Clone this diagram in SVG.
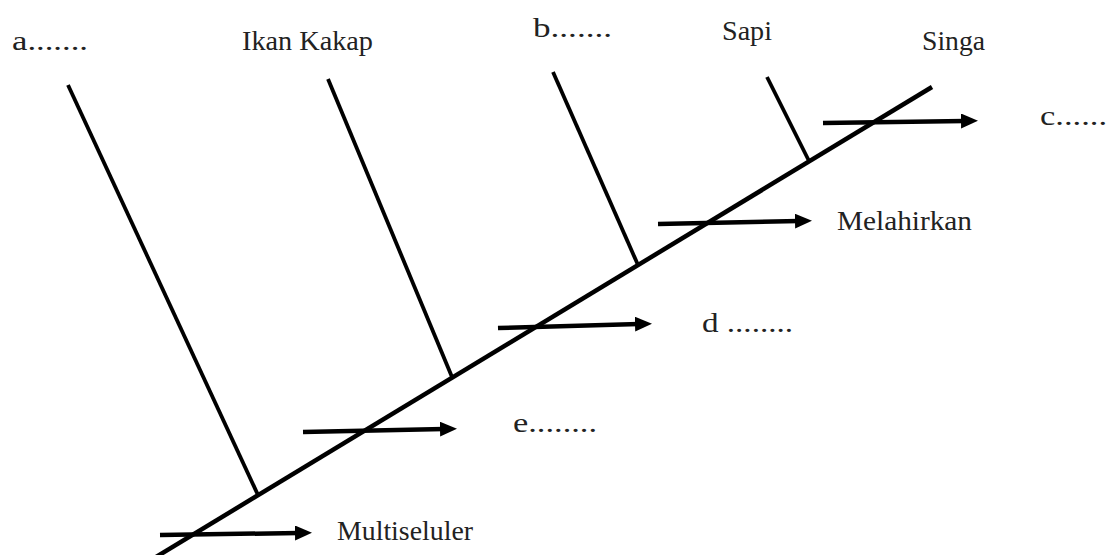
<svg xmlns="http://www.w3.org/2000/svg" width="1112" height="555" viewBox="0 0 1112 555">
  <style>
    .lbl { font-family: "Liberation Serif", "Times New Roman", serif; font-size: 27px; fill: #222; }
    .ln { stroke: #000; stroke-width: 4.5; stroke-linecap: butt; fill: none; }
    .br { stroke: #000; stroke-width: 3.8; stroke-linecap: butt; fill: none; }
    .ar { stroke: #000; stroke-width: 4.5; fill: none; marker-end: url(#ah); }
  </style>
  <defs>
    <marker id="ah" markerUnits="userSpaceOnUse" markerWidth="18" markerHeight="16" refX="4" refY="7.5" orient="auto">
      <path d="M0,0 L17,7.5 L0,15 z" fill="#000"/>
    </marker>
  </defs>
  <rect width="1112" height="555" fill="#fff"/>
  <g id="connectors">
    <line id="main" class="ln" x1="156" y1="557" x2="932" y2="87"/>
    <line class="br" x1="68" y1="85" x2="258" y2="495"/>
    <line class="br" x1="328" y1="79" x2="452" y2="377"/>
    <line class="br" x1="553" y1="72" x2="638" y2="265"/>
    <line class="br" x1="767" y1="77" x2="809" y2="161"/>
    <line class="ar" x1="160" y1="535" x2="299" y2="533"/>
    <line class="ar" x1="303" y1="432" x2="444" y2="429"/>
    <line class="ar" x1="498" y1="328" x2="639" y2="324"/>
    <line class="ar" x1="658" y1="224" x2="799" y2="221"/>
    <line class="ar" x1="823" y1="123" x2="965" y2="121"/>
  </g>
  <g id="node-a"><text class="lbl" x="12" y="50" textLength="76" lengthAdjust="spacingAndGlyphs">a.......</text></g>
  <g id="node-ikan-kakap"><text class="lbl" x="242" y="50" textLength="131" lengthAdjust="spacingAndGlyphs">Ikan Kakap</text></g>
  <g id="node-b"><text class="lbl" x="533" y="37" textLength="79" lengthAdjust="spacingAndGlyphs">b.......</text></g>
  <g id="node-sapi"><text class="lbl" x="722" y="40" textLength="50" lengthAdjust="spacingAndGlyphs">Sapi</text></g>
  <g id="node-singa"><text class="lbl" x="922" y="50" textLength="63" lengthAdjust="spacingAndGlyphs">Singa</text></g>
  <g id="node-c"><text class="lbl" x="1040" y="125" textLength="67" lengthAdjust="spacingAndGlyphs">c......</text></g>
  <g id="node-melahirkan"><text class="lbl" x="837" y="230" textLength="135" lengthAdjust="spacingAndGlyphs">Melahirkan</text></g>
  <g id="node-d"><text class="lbl" x="702" y="332" textLength="91" lengthAdjust="spacingAndGlyphs">d ........</text></g>
  <g id="node-e"><text class="lbl" x="513" y="432" textLength="84" lengthAdjust="spacingAndGlyphs">e........</text></g>
  <g id="node-multiseluler"><text class="lbl" x="337" y="540" textLength="136" lengthAdjust="spacingAndGlyphs">Multiseluler</text></g>
</svg>
